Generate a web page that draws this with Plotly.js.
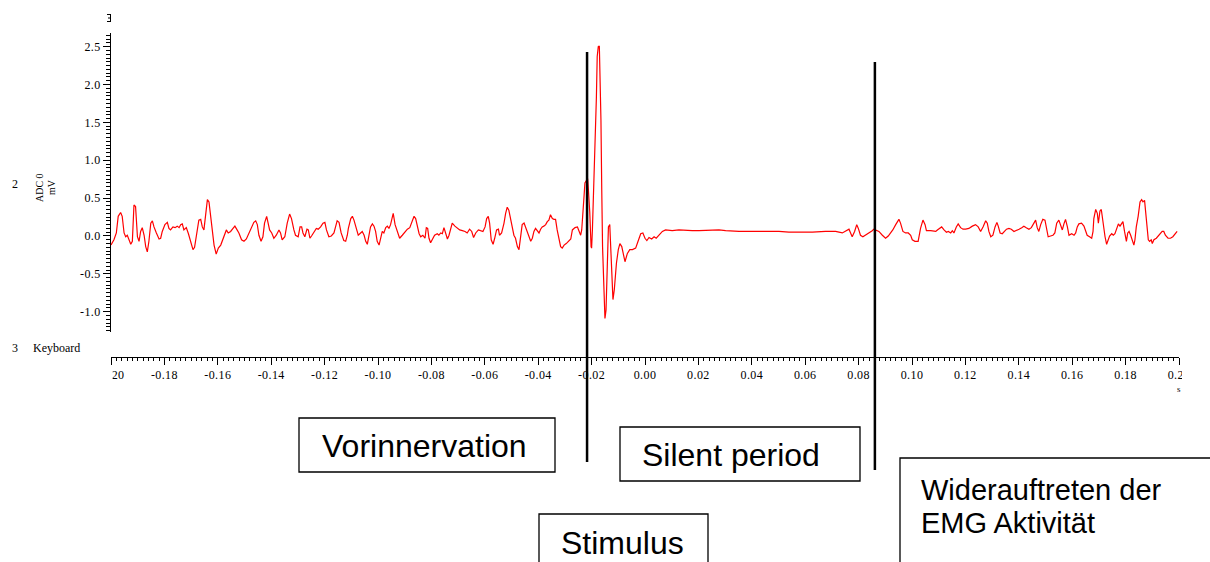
<!DOCTYPE html>
<html><head><meta charset="utf-8">
<script src="https://cdn.plot.ly/plotly-3.0.1.min.js"></script>
<style>html,body{margin:0;padding:0;background:#fff;overflow:hidden}#chart{width:1210px;height:562px}
.xtick text,.ytick text{letter-spacing:0.4px}</style>
</head><body><div id="chart"></div>
<script>
// ---- data (time in ms, voltage in mV) ----
const t1 = [-200,-198.9,-198.0,-197.3,-196.4,-195.8,-195.1,-194.5,-193.9,-193.3,
-192.6,-192.0,-191.4,-190.8,-190.1,-189.5,-188.9,-188.3,-187.6,-187.0,
-186.4,-185.8,-185.1,-184.5,-183.9,-183.0,-182.0,-181.4,-180.8,-179.8,
-178.9,-178.3,-177.7,-176.8,-176.0,-175.2,-174.5,-173.9,-173.3,-172.7,
-171.8,-171.0,-170.2,-169.3,-168.7,-167.7,-167.1,-166.4,-165.8,-165.2,
-164.6,-163.9,-163.3,-162.7,-162.1,-161.4,-160.6,-159.8,-158.9,-158.1,
-157.3,-156.8,-156.1,-155.2,-154.3,-153.6,-153.1,-152.1,-151.1,-150.2,
-149.3,-148.3,-147.3,-146.5,-145.8,-145.2,-144.6,-143.8,-143.1,-142.5,
-141.7,-141.1,-140.6,-139.8,-139.0,-138.1,-137.1,-136.5,-135.9,-134.9,
-134.0,-133.1,-132.4,-131.5,-130.9,-129.9,-129.2,-128.6,-128.1,-127.4,
-126.6,-126.1,-125.5,-124.9,-124.0,-123.1,-122.4,-121.5,-120.6,-119.9,
-119.3,-118.4,-117.5,-116.5,-115.9,-115.3,-114.6,-113.8,-112.8,-112.1,-111.5];
const v1 = [-0.12,-0.05,0.04,0.26,0.31,0.26,0.04,-0.01,0.01,-0.05,
-0.11,-0.07,0.41,0.39,-0.01,-0.07,0.06,0.11,0.01,-0.14,
-0.21,-0.07,0.17,0.20,0.12,0.04,-0.04,-0.03,0.06,0.15,
0.18,0.10,0.08,0.12,0.11,0.13,0.11,0.15,0.16,0.08,
0.11,0.03,-0.07,-0.18,-0.15,0.06,0.21,0.22,0.12,0.08,
0.28,0.48,0.45,0.28,0.04,-0.12,-0.24,-0.16,-0.12,-0.05,
0.01,0.08,0.04,0.06,0.10,0.13,0.10,0.04,-0.05,-0.07,
-0.04,0.04,0.11,0.18,0.20,0.15,0.01,-0.07,-0.01,0.17,
0.26,0.18,0.08,0.04,-0.03,0.01,0.08,0.04,-0.05,-0.01,
0.17,0.29,0.23,0.08,0.01,-0.01,0.12,0.12,0.04,-0.01,
0.09,0.08,-0.03,0.00,0.06,0.10,0.09,0.12,0.17,0.18,
0.08,-0.01,0.00,0.04,0.12,0.20,0.18,0.04,-0.06,-0.07,0.01];

const t2 = [-111.1,-110.2,-109.6,-109.0,-108.1,-107.4,-106.5,-105.9,-105.2,-104.6,
-104.0,-103.4,-102.8,-102.1,-101.5,-100.9,-100.3,-99.6,-99.0,-98.4,
-97.8,-97.1,-96.5,-95.9,-95.3,-94.6,-94.3,-93.6,-92.8,-91.9,
-90.9,-89.9,-89.0,-88.1,-87.4,-86.5,-85.9,-85.3,-84.6,-84.0,
-83.2,-82.4,-81.9,-81.4,-80.9,-80.3,-79.7,-78.8,-77.8,-77.2,
-76.5,-75.9,-75.3,-74.7,-74.0,-73.4,-72.8,-72.2,-71.2,-70.3,
-69.4,-68.4,-67.4,-66.6,-65.7,-64.9,-64.2,-63.4,-62.4,-61.6,
-60.7,-59.9,-59.3,-58.7,-58.2,-57.6,-56.9,-56.3,-55.6,-54.9,
-54.5,-53.7,-52.8,-52.2,-51.6,-51.0,-50.3,-49.7,-49.1,-48.5,
-47.8,-47.2,-46.6,-46.0,-45.3,-44.7,-44.1,-43.5,-42.8,-42.2,
-41.6,-41.0,-40.3,-39.7,-39.1,-38.5,-37.9,-37.2,-36.6,-36.0,
-35.4,-34.7,-34.1,-33.5,-32.9];
const v2 = [0.10,0.23,0.26,0.21,0.08,0.01,0.04,0.06,0.01,-0.07,
-0.11,-0.01,0.12,0.16,0.13,0.06,-0.07,-0.12,-0.01,0.06,
0.04,0.11,0.13,0.10,0.15,0.28,0.30,0.15,0.06,-0.03,
0.01,0.06,0.09,0.11,0.19,0.26,0.23,0.12,0.03,-0.01,
0.01,-0.03,0.11,0.10,-0.03,-0.09,-0.05,0.01,0.03,0.01,
0.04,0.03,0.11,0.04,-0.04,0.01,0.10,0.17,0.13,0.10,
0.08,0.07,0.06,0.04,0.09,0.06,-0.02,0.04,0.08,0.07,
0.06,0.12,0.23,0.26,0.17,-0.05,-0.11,-0.03,0.08,0.09,
0.01,0.04,0.17,0.30,0.38,0.34,0.21,0.08,0.01,-0.03,
-0.14,-0.18,-0.01,0.15,0.17,0.11,0.06,-0.03,-0.07,-0.03,
0.06,0.10,0.07,0.04,0.09,0.12,0.13,0.15,0.19,0.21,
0.28,0.23,0.22,0.22,0.08];

const t3 = [-31.6,-31.0,-30.3,-29.5,-28.5,-27.8,-27.2,-26.2,-25.3,-24.7,
-24.1,-23.7,-23.2,-22.8,-22.5,-22.0,-21.5,-21.2,-20.7,-20.2,
-20.0,-19.7,-19.2,-18.7,-18.2,-17.9,-17.5,-17.1,-16.7,-16.5,
-16.2,-15.9,-15.4,-15.0,-14.6,-14.2,-13.7,-13.2,-12.9,-12.5,
-12.0,-11.5,-10.7,-10.0,-9.4,-8.7,-8.1,-7.5,-6.6,-5.7,
-4.7,-3.5,-2.6,-1.6,-0.8,0.0,0.7,1.5,2.5,3.4,
4.2,5.2,6.5,7.7,10.2,12.7,15.2,17.7];
const v3 = [-0.14,-0.16,-0.12,-0.10,-0.07,-0.04,0.08,0.11,0.12,0.06,
0.01,0.08,0.43,0.54,0.70,0.74,0.76,0.61,0.32,-0.14,
-0.16,0.08,0.61,1.36,1.84,2.37,2.50,2.51,2.06,1.53,
0.61,-0.14,-0.67,-1.09,-0.98,-0.36,0.12,0.15,-0.14,-0.62,
-0.84,-0.71,-0.36,-0.18,-0.10,-0.14,-0.27,-0.34,-0.23,-0.18,
-0.18,-0.16,-0.07,0.03,0.04,-0.03,-0.06,-0.02,-0.04,-0.01,
-0.03,0.01,0.06,0.08,0.07,0.08,0.07,0.07];

const t4 = [20.2,24.0,27.7,30.2,35.2,40.2,45.2,50.2,53.9,57.7,
62.7,67.6,71.4,73.9,75.1,76.4,77.0,77.6,78.5,79.3,
79.9,80.7,81.6,82.6,83.9,85.1,85.7,86.6,87.6,88.9,
90.1,91.1,92.0,92.8,93.9,95.1,95.7,96.6,97.6,98.6,
99.5,100.1,101.1,102.3];
const v4 = [0.07,0.08,0.08,0.07,0.06,0.06,0.06,0.06,0.05,0.05,
0.05,0.06,0.06,0.04,0.06,0.09,0.04,-0.01,0.06,0.15,
0.10,0.01,-0.01,0.01,0.04,0.07,0.09,0.08,0.06,0.01,
-0.03,0.00,0.04,0.08,0.15,0.22,0.17,0.06,0.04,0.04,
0.01,-0.05,-0.07,-0.07];

const t5 = [103.2,104.1,104.9,105.4,107.0,108.9,109.5,110.4,111.1,112.0,
112.9,113.6,114.5,115.1,115.7,116.6,117.3,118.2,119.1,120.1,
121.3,122.6,123.8,124.8,125.7,126.6,127.6,128.2,128.8,129.5,
130.3,131.1,131.8,132.3,133.0,133.8,134.7,135.4,136.3,137.2,
138.2,139.1,140.1,141.1,141.9,142.8,143.8,144.7,145.7,146.3,
146.9,147.5,148.2,149.0,149.8,150.4,151.0,151.9,152.8,153.5,
154.2,155.0,155.7,156.3,156.9,157.5,158.2,158.8,159.8,160.7,
161.3,161.9,162.5,163.5,164.4,165.0,165.6,166.5,167.3,167.8,
168.1,168.8,169.4,169.8,170.4,170.9,171.5,172.3,172.9,173.5,
174.0,174.8,175.4,176.0,176.6,177.3,177.9,178.5,179.0,179.6,
180.3,180.8,181.3,181.9,182.5,183.1,183.5,184.0,184.7,185.4,
186.0,186.5,187.1,187.5,188.0,188.5,189.0,189.6,190.0,190.6,
191.5,192.2,193.1,193.7,194.3,194.9,195.9,196.8,197.7,198.7,199.3];
const v5 = [0.10,0.21,0.15,0.07,0.07,0.06,0.08,0.11,0.12,0.08,
0.05,0.06,0.04,0.07,0.04,0.12,0.16,0.11,0.09,0.09,
0.10,0.13,0.15,0.12,0.06,0.12,0.20,0.17,0.06,-0.01,
0.01,0.12,0.18,0.13,0.04,0.03,0.06,0.09,0.10,0.09,
0.06,0.07,0.09,0.11,0.13,0.11,0.09,0.11,0.17,0.21,
0.11,0.06,0.15,0.22,0.21,0.08,-0.01,0.00,0.01,0.04,
0.17,0.21,0.15,0.08,0.16,0.22,0.12,0.01,0.03,0.01,
0.04,0.12,0.16,0.17,0.13,0.06,0.01,-0.01,-0.03,0.06,
0.23,0.35,0.30,0.17,0.33,0.35,0.17,-0.01,-0.11,-0.03,
0.00,0.03,0.01,0.03,0.08,0.16,0.13,0.16,0.19,0.06,
-0.07,0.04,0.06,0.01,-0.07,-0.12,-0.05,0.12,0.26,0.45,
0.48,0.45,0.47,0.30,0.10,-0.05,-0.07,-0.05,-0.10,-0.05,
-0.03,0.00,0.04,0.06,0.06,0.01,-0.03,-0.03,-0.01,0.03,0.06];

// tick labels
const xTickVals = [-0.20,-0.18,-0.16,-0.14,-0.12,-0.10,-0.08,-0.06,-0.04,-0.02,0.00,0.02,0.04,0.06,0.08,0.10,0.12,0.14,0.16,0.18,0.20];
const xTickText = ["-0.20","-0.18","-0.16","-0.14","-0.12","-0.10","-0.08","-0.06","-0.04","-0.02","0.00","0.02","0.04","0.06","0.08","0.10","0.12","0.14","0.16","0.18","0.20"];
const yTickVals = [-1.0,-0.5,0.0,0.5,1.0,1.5,2.0,2.5];
const yTickText = ["-1.0","-0.5","0.0","0.5","1.0","1.5","2.0","2.5"];

// event markers (s)
const stimulusTime = -0.0217;
const recoveryTime = 0.0861;

// ---- layout helpers (pixel -> paper) ----
const W = 1210, H = 562;
const px = x => x / W;
const py = y => 1 - y / H;

const time = [].concat(t1, t2, t3, t4, t5).map(ms => ms / 1000);
const volt = [].concat(v1, v2, v3, v4, v5);

const trace = {
  x: time, y: volt, type: 'scatter', mode: 'lines',
  line: {color: '#ff0000', width: 1.2}, hoverinfo: 'skip', showlegend: false
};

const serif = 'Liberation Serif, Times New Roman, serif';
const sans = 'Liberation Sans, Arial, sans-serif';
const blk = '#000';

function vline(xv, y0, y1) {
  return {type: 'line', xref: 'x', yref: 'paper', x0: xv, x1: xv, y0: py(y0), y1: py(y1),
          line: {color: blk, width: 2.5}, layer: 'above'};
}
function box(x0, y0, x1, y1) {
  return {type: 'rect', xref: 'paper', yref: 'paper', x0: px(x0), x1: px(x1), y0: py(y1), y1: py(y0),
          line: {color: blk, width: 1.3}, fillcolor: 'rgba(0,0,0,0)', layer: 'above'};
}
function pline(x0, y0, x1, y1, w) {
  return {type: 'line', xref: 'paper', yref: 'paper', x0: px(x0), x1: px(x1), y0: py(y0), y1: py(y1),
          line: {color: blk, width: w || 1}, layer: 'above'};
}
function whiteout(x0, y0, x1, y1) {
  return {type: 'rect', xref: 'paper', yref: 'paper', x0: px(x0), x1: px(x1), y0: py(y1), y1: py(y0),
          line: {width: 0}, fillcolor: '#ffffff', layer: 'above'};
}
function label(text, x, y, opts) {
  return Object.assign({text: text, xref: 'paper', yref: 'paper', x: px(x), y: py(y),
    xanchor: 'left', yanchor: 'middle', showarrow: false,
    font: {family: serif, size: 12, color: blk}}, opts || {});
}
const boxFont = {family: sans, size: 32, color: blk};

const layout = {
  width: W, height: H,
  margin: {l: 0, r: 0, t: 0, b: 0, pad: 0},
  paper_bgcolor: '#ffffff', plot_bgcolor: '#ffffff',
  font: {family: serif, size: 12, color: blk},
  showlegend: false,
  xaxis: {
    domain: [px(111), px(1179)], range: [-0.2, 0.2], anchor: 'free', position: py(357),
    showline: true, linecolor: blk, linewidth: 1, mirror: false,
    ticks: 'outside', ticklen: 7, tickwidth: 1, tickcolor: blk,
    tickmode: 'array', tickvals: xTickVals, ticktext: xTickText,
    tickfont: {family: serif, size: 12, color: blk},
    minor: {tickmode: 'linear', tick0: -0.2, dtick: 0.002, ticks: 'outside', ticklen: 3, tickwidth: 1, tickcolor: blk, showgrid: false},
    showgrid: false, zeroline: false, fixedrange: true
  },
  yaxis: {
    domain: [py(332), py(33)], range: [-1.268, 2.681], anchor: 'free', position: px(110),
    showline: true, linecolor: blk, linewidth: 1,
    ticks: 'outside', ticklen: 7, tickwidth: 1, tickcolor: blk,
    tickmode: 'array', tickvals: yTickVals, ticktext: yTickText,
    tickfont: {family: serif, size: 12, color: blk},
    minor: {tickmode: 'linear', tick0: 0, dtick: 0.05, ticks: 'outside', ticklen: 4, tickwidth: 1, tickcolor: blk, showgrid: false},
    showgrid: false, zeroline: false, fixedrange: true
  },
  shapes: [
    vline(stimulusTime, 462, 52),
    vline(recoveryTime, 470, 62),
    box(299, 418, 555, 472),
    box(620, 427, 860, 481),
    box(539, 514, 708, 566),
    box(900, 458, 1214, 566),
    whiteout(70, 366, 112.5, 384),
    whiteout(1182, 366, 1210, 383),
    pline(110.5, 14, 110.5, 22, 1),
    pline(107, 14.5, 110.5, 14.5, 1),
    pline(108, 18, 110.5, 18, 1),
    pline(107, 21.5, 110.5, 21.5, 1)
  ],
  annotations: [
    label('2', 10, 184),
    label('ADC 0', 39, 188, {xanchor: 'center', textangle: -90, font: {family: serif, size: 10, color: blk}}),
    label('mV', 51, 187, {xanchor: 'center', textangle: -90, font: {family: serif, size: 10, color: blk}}),
    label('3', 10, 348),
    label('Keyboard', 31, 348),
    label('s', 1175, 389, {font: {family: serif, size: 9, color: blk}}),
    label('Vorinnervation', 320, 446, {font: boxFont}),
    label('Silent period', 640, 455, {font: boxFont}),
    label('Stimulus', 559, 543, {font: boxFont}),
    label('Widerauftreten der', 919, 490, {font: {family: sans, size: 29, color: blk}}),
    label('EMG Aktivität', 919, 523, {font: {family: sans, size: 29, color: blk}})
  ]
};

Plotly.newPlot('chart', [trace], layout, {staticPlot: true, displayModeBar: false});
</script>
</body></html>
